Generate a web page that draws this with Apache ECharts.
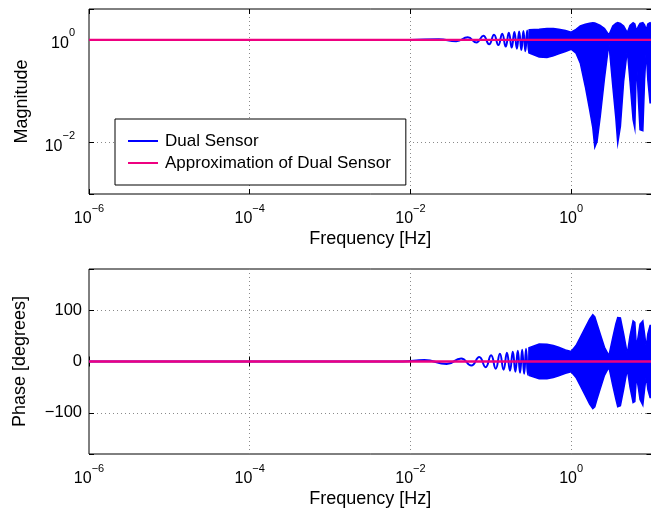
<!DOCTYPE html>
<html><head><meta charset="utf-8">
<script src="https://cdn.jsdelivr.net/npm/echarts@6/dist/echarts.min.js"></script>
<style>html,body{margin:0;padding:0;background:#fff}#c{width:651px;height:516px}</style>
</head><body><div id="c"></div>
<script>
// ---- data ----
const approxFreq = [1e-6, 10];
const approxMag = [1, 1];
const approxPhase = [0, 0];

// individual low-frequency wiggles of the Dual Sensor (extrema)
const dualMagFreq = [1e-6, 0.01, 0.0225, 0.0372, 0.0517, 0.0662, 0.0807, 0.0952, 0.1097, 0.1242, 0.1387, 0.1532, 0.1677, 0.1822, 0.1967, 0.2112, 0.2257, 0.2402, 0.2547, 0.2692, 0.2837, 0.2982, 0.3127];
const dualMagVal = [1, 1, 1.028, 0.944, 1.122, 0.891, 1.202, 0.822, 1.259, 0.794, 1.318, 0.741, 1.380, 0.708, 1.429, 0.676, 1.462, 0.638, 1.496, 0.603, 1.531, 0.575, 1.549];

const dualPhaseFreq = [1e-6, 0.008, 0.0149, 0.0283, 0.0428, 0.0573, 0.0718, 0.0863, 0.1008, 0.1153, 0.1298, 0.1443, 0.1588, 0.1733, 0.1878, 0.2023, 0.2168, 0.2313, 0.2458, 0.2603, 0.2748, 0.2893, 0.3038];
const dualPhaseVal = [0, 0, 3, -5, 6, -8, 9, -11, 12, -14, 15, -16, 17, -18, 19, -20, 21, -22, 23, -24, 25, -26, 27];

// envelope of the densely oscillating part of the Dual Sensor (filled band)
const bandFreq = [0.3, 0.4, 0.5, 0.6, 0.7, 0.85, 1.0, 1.15, 1.3, 1.5, 1.7, 1.86, 1.97, 2.1, 2.3, 2.6, 2.95, 3.3, 3.6, 3.8, 4.1, 4.5, 5.0, 5.4, 5.9, 6.2, 6.5, 6.9, 7.2, 7.8, 8.2, 8.6, 9.0, 9.6, 10.5];
const magUpper = [1.57, 1.61, 1.67, 1.67, 1.61, 1.52, 1.41, 1.60, 1.87, 2.02, 2.12, 2.17, 2.14, 2.05, 1.92, 1.67, 1.25, 1.87, 2.09, 2.17, 2.09, 1.87, 1.39, 1.92, 2.17, 2.05, 1.52, 1.87, 2.09, 2.17, 1.96, 1.57, 2.05, 2.17, 1.96];
const magLower = [0.558, 0.467, 0.457, 0.489, 0.534, 0.597, 0.659, 0.551, 0.352, 0.124, 0.0435, 0.0195, 0.0082, 0.0105, 0.032, 0.18, 0.86, 0.124, 0.030, 0.0098, 0.0206, 0.155, 0.64, 0.155, 0.028, 0.019, 0.41, 0.059, 0.0178, 0.017, 0.167, 0.64, 0.167, 0.06, 0.06];
const phUpper = [27, 34, 33.5, 31, 27.7, 22.6, 19.3, 31, 47, 66, 82.5, 91, 87, 73, 53.5, 27.7, 11.6, 47, 73, 85.7, 85, 53.5, 15, 50, 79, 76, 27.7, 53.5, 73, 79, 53.5, 27.7, 53.5, 70, 70];
const phLower = [-27, -33.5, -33.5, -31, -28, -23, -20, -31, -47, -66, -83, -91.5, -88, -73, -53, -27, -11, -47, -73, -88, -86, -54, -15, -50, -80, -78, -28, -54, -74, -85, -54, -28, -54, -70, -70];

const seriesNames = ['Dual Sensor', 'Approximation of Dual Sensor'];
const xName = 'Frequency [Hz]';
const magName = 'Magnitude';
const phaseName = 'Phase [degrees]';

// ---- chart ----
const FONT = '"Liberation Sans", Arial, Helvetica, sans-serif';
const BLUE = '#0000ff';
const PINK = '#ee0080';
const chart = echarts.init(document.getElementById('c'), null, {renderer: 'canvas'});

function powLabel(v) {
  const e = Math.log10(v);
  const r = Math.round(e);
  if (Math.abs(e - r) > 1e-6 || r % 2 !== 0) return '';
  return '{b|10}{s|' + (r < 0 ? '\u2212' + (-r) : r) + '}';
}
const rich = {
  b: {fontSize: 16, fontFamily: FONT, color: '#000', lineHeight: 24, verticalAlign: 'bottom'},
  s: {fontSize: 11, fontFamily: FONT, color: '#000', lineHeight: 10, verticalAlign: 'top'}
};
const gridLine = {show: true, showMinLine: false, showMaxLine: false, lineStyle: {color: '#8a8a8a', width: 1, type: [1, 3]}};
const tick = {show: true, inside: true, length: 5, lineStyle: {color: '#000', width: 1}};
const nameStyle = {fontSize: 18, fontFamily: FONT, color: '#000'};

function xAx(g, pos) {
  const main = pos === 'bottom';
  return {
    type: 'log', logBase: 100, gridIndex: g, position: pos, min: 1e-6, max: 10,
    axisLine: {show: false}, axisTick: tick,
    splitLine: main ? gridLine : {show: false},
    axisLabel: main ? {show: true, formatter: powLabel, rich: rich, margin: 9} : {show: false},
    name: main ? xName : '', nameLocation: 'middle', nameGap: 36, nameTextStyle: nameStyle
  };
}
function magAx(pos) {
  const main = pos === 'left';
  return {
    type: 'log', logBase: 100, gridIndex: 0, position: pos, min: 1e-3, max: 4,
    axisLine: {show: false}, axisTick: tick,
    splitLine: main ? gridLine : {show: false},
    axisLabel: main ? {show: true, formatter: powLabel, rich: rich, margin: 14} : {show: false},
    name: main ? magName : '', nameLocation: 'middle', nameGap: 58, nameTextStyle: nameStyle
  };
}
function phAx(pos) {
  const main = pos === 'left';
  return {
    type: 'value', gridIndex: 1, position: pos, min: -180, max: 180, splitNumber: 3,
    axisLine: {show: false}, axisTick: tick,
    splitLine: main ? gridLine : {show: false},
    axisLabel: main ? {show: true, margin: 7, fontSize: 16.5, fontFamily: FONT, color: '#000',
      formatter: v => (Math.abs(v) === 180 ? '' : (v < 0 ? '\u2212' + (-v) : String(v)))} : {show: false},
    name: main ? phaseName : '', nameLocation: 'middle', nameGap: 60, nameTextStyle: nameStyle
  };
}
function band(g, upper, lower) {
  return {
    type: 'custom', name: 'band' + g, xAxisIndex: g, yAxisIndex: g, silent: true, z: 3,
    data: bandFreq.map((f, i) => [f, upper[i], lower[i]]),
    renderItem: function (params, api) {
      if (params.dataIndex !== 0) return;
      const pts = [];
      for (let i = 0; i < bandFreq.length; i++) pts.push(api.coord([bandFreq[i], upper[i]]));
      for (let i = bandFreq.length - 1; i >= 0; i--) pts.push(api.coord([bandFreq[i], lower[i]]));
      return {type: 'polygon', shape: {points: pts}, style: {fill: BLUE, stroke: BLUE, lineWidth: 1.5}};
    }
  };
}
function line(name, g, xs, ys, color, width, z, smooth) {
  return {
    type: 'line', name: name, xAxisIndex: g, yAxisIndex: g, z: z,
    data: xs.map((x, i) => [x, ys[i]]), symbol: 'none', showSymbol: false, smooth: smooth,
    lineStyle: {color: color, width: width}, itemStyle: {color: color}, silent: true
  };
}

const gridBase = {left: 89, width: 562.5, height: 185, show: true, borderColor: '#000', borderWidth: 1,
  backgroundColor: 'transparent', containLabel: false, outerBoundsMode: 'none'};

chart.setOption({
  animation: false,
  backgroundColor: '#fff',
  grid: [
    Object.assign({top: 9}, gridBase),
    Object.assign({top: 269}, gridBase)
  ],
  xAxis: [xAx(0, 'bottom'), xAx(1, 'bottom'), xAx(0, 'top'), xAx(1, 'top')],
  yAxis: [magAx('left'), phAx('left'), magAx('right'), phAx('right')],
  legend: {
    data: seriesNames, orient: 'vertical', left: 115, top: 119, selectedMode: false,
    icon: 'rect', itemWidth: 30, itemHeight: 2, itemGap: 0,
    padding: [11, 15, 11, 13], backgroundColor: '#fff', borderColor: '#000', borderWidth: 1,
    textStyle: {fontSize: 17, fontFamily: FONT, color: '#000', lineHeight: 22, padding: [0, 0, 0, 2]},
    z: 10
  },
  series: [
    line(seriesNames[0], 0, dualMagFreq, dualMagVal, BLUE, 2, 3, 0.5),
    band(0, magUpper, magLower),
    line(seriesNames[1], 0, approxFreq, approxMag, PINK, 2.3, 5, false),
    line(seriesNames[0], 1, dualPhaseFreq, dualPhaseVal, BLUE, 2, 3, 0.5),
    band(1, phUpper, phLower),
    line(seriesNames[1], 1, approxFreq, approxPhase, PINK, 2.3, 5, false)
  ]
});
</script></body></html>
